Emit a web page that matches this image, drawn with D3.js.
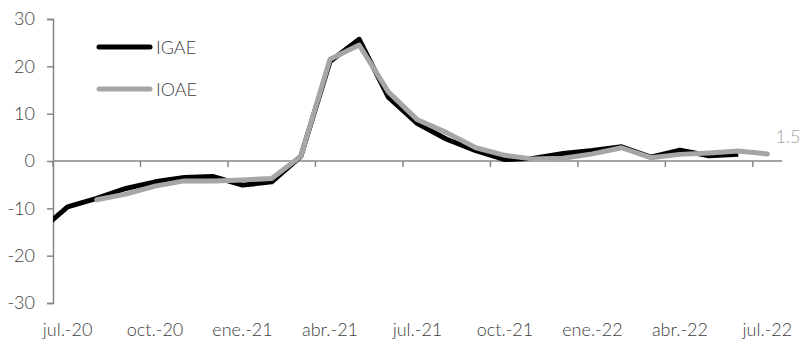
<!DOCTYPE html>
<html>
<head>
<meta charset="utf-8">
<script src="https://cdn.jsdelivr.net/npm/d3@7"></script>
<style>
  html, body { margin: 0; padding: 0; background: #fff; }
  svg { display: block; }
  text { font-family: Lato, "Liberation Sans", sans-serif; font-weight: 300; fill: #404040; }
</style>
</head>
<body>
<svg id="chart" width="800" height="343"></svg>
<script>
const months = ["jun.-20","jul.-20","ago.-20","sep.-20","oct.-20","nov.-20","dic.-20",
  "ene.-21","feb.-21","mar.-21","abr.-21","may.-21","jun.-21","jul.-21","ago.-21","sep.-21",
  "oct.-21","nov.-21","dic.-21","ene.-22","feb.-22","mar.-22","abr.-22","may.-22","jun.-22","jul.-22"];
const igae = [-15.0, -9.7, -7.9, -5.8, -4.4, -3.5, -3.3, -5.1, -4.4, 1.0, 21.0, 25.7, 13.5, 7.9, 4.6, 2.2,
  0.3, 0.6, 1.6, 2.2, 3.0, 0.8, 2.3, 1.1, 1.4, null];
const ioae = [null, null, -8.2, -7.0, -5.3, -4.2, -4.2, -4.0, -3.7, 1.0, 21.5, 24.5, 14.6, 8.7, 6.0, 2.8,
  1.2, 0.4, 0.6, 1.5, 2.8, 0.7, 1.4, 1.7, 2.1, 1.5];
const yTicks = [-30, -20, -10, 0, 10, 20, 30];
const xLabels = ["jul.-20","oct.-20","ene.-21","abr.-21","jul.-21","oct.-21","ene.-22","abr.-22","jul.-22"];
const seriesNames = ["IGAE", "IOAE"];
const lastLabel = "1.5";

(function () {
const svg = d3.select("#chart");
const mLeft = 53, mRight = 782, mTop = 19, mBottom = 303;
const axisCol = "#868686";

const x = d3.scaleLinear().domain([0.5, months.length - 0.5]).range([mLeft, mRight]);
const y = d3.scaleLinear().domain([-30, 30]).range([mBottom, mTop]);

svg.append("defs").append("clipPath").attr("id", "clip")
  .append("rect").attr("x", mLeft).attr("y", 0).attr("width", mRight - mLeft).attr("height", 343);

// y axis
const yAxis = d3.axisLeft(y).tickValues(yTicks).tickSize(6).tickPadding(12).tickFormat(d => String(d));
const gy = svg.append("g").attr("transform", `translate(${mLeft},0)`).call(yAxis);
gy.select(".domain").attr("stroke", axisCol).attr("stroke-width", 1.5);
gy.selectAll(".tick line").attr("stroke", axisCol).attr("stroke-width", 1.5);
gy.selectAll(".tick text").style("font-size", "18px").style("font-family", null).attr("fill", "#404040");

// x axis at zero
const boundaries = d3.range(1, months.length, 3).map(i => i - 0.5);
const gx = svg.append("g").attr("transform", `translate(0,${y(0)})`);
gx.append("line").attr("x1", mLeft).attr("x2", mRight).attr("stroke", axisCol).attr("stroke-width", 1.5);
gx.selectAll("line.tk").data(boundaries).join("line").attr("class", "tk")
  .attr("x1", d => x(d)).attr("x2", d => x(d)).attr("y1", 0).attr("y2", 6)
  .attr("stroke", axisCol).attr("stroke-width", 1.5);

svg.append("g").selectAll("text").data(xLabels).join("text")
  .attr("x", d => x(months.indexOf(d)))
  .attr("y", 336)
  .attr("text-anchor", "middle")
  .style("font-size", "18px")
  .text(d => d);

const line = d3.line()
  .defined(d => d.v !== null)
  .x(d => x(d.i))
  .y(d => y(d.v))
  .curve(d3.curveLinear);

const gLines = svg.append("g").attr("clip-path", "url(#clip)");
gLines.append("path").datum(igae.map((v, i) => ({v, i})))
  .attr("d", line).attr("fill", "none").attr("stroke", "#000").attr("stroke-width", 5)
  .attr("stroke-linejoin", "round");
gLines.append("path").datum(ioae.map((v, i) => ({v, i})))
  .attr("d", line).attr("fill", "none").attr("stroke", "#a6a6a6").attr("stroke-width", 5)
  .attr("stroke-linejoin", "round").attr("stroke-linecap", "round");

// end label
const li = months.length - 1;
svg.append("text").attr("x", x(li) + 8).attr("y", y(ioae[li]) - 11)
  .style("font-size", "18px").style("fill", "#a6a6a6").text(lastLabel);

// legend
const legend = [{name: seriesNames[0], color: "#000", y: 47}, {name: seriesNames[1], color: "#a6a6a6", y: 89}];
const lg = svg.append("g");
lg.selectAll("line").data(legend).join("line")
  .attr("x1", 99).attr("x2", 150).attr("y1", d => d.y).attr("y2", d => d.y)
  .attr("stroke", d => d.color).attr("stroke-width", 5).attr("stroke-linecap", "round");
lg.selectAll("text").data(legend).join("text")
  .attr("x", 156).attr("y", d => d.y + 6.5)
  .style("font-size", "18px").text(d => d.name);
})();
</script>
</body>
</html>
